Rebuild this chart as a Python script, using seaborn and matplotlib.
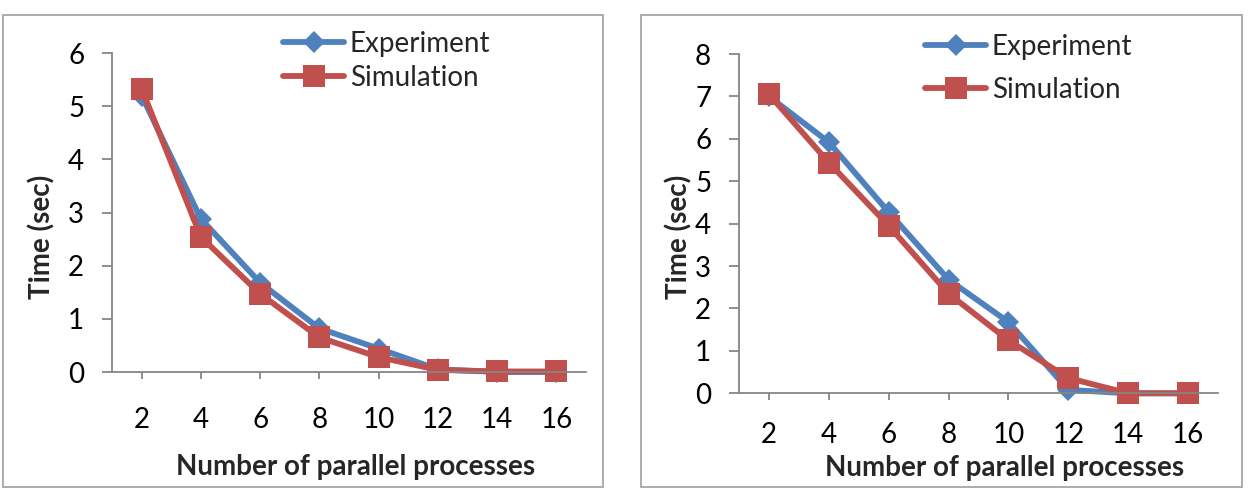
import matplotlib
matplotlib.use("Agg")
import matplotlib.pyplot as plt
import seaborn as sns
import pandas as pd
from matplotlib.patches import Rectangle

# ---- data ----
processes = [2, 4, 6, 8, 10, 12, 14, 16]
series_names = ["Experiment", "Simulation"]
left_experiment = [5.2, 2.88, 1.68, 0.82, 0.44, 0.05, 0.0, 0.0]
left_simulation = [5.33, 2.54, 1.47, 0.65, 0.28, 0.04, 0.01, 0.01]
right_experiment = [7.0, 5.92, 4.27, 2.68, 1.68, 0.08, 0.0, 0.0]
right_simulation = [7.05, 5.44, 3.95, 2.35, 1.25, 0.36, 0.0, 0.0]
left_yticks = [0, 1, 2, 3, 4, 5, 6]
right_yticks = [0, 1, 2, 3, 4, 5, 6, 7, 8]
xlabel = "Number of parallel processes"
ylabel = "Time (sec)"

BLUE = "#4F81BD"
RED = "#C0504D"
AXIS = "#868686"

sns.set_theme(style="white")
plt.rcParams["font.family"] = ["Lato", "DejaVu Sans"]

def make_df(exp, sim):
    return pd.DataFrame({
        "processes": processes * 2,
        "time": list(exp) + list(sim),
        "series": [series_names[0]] * len(processes) + [series_names[1]] * len(processes),
    })

fig = plt.figure(figsize=(12.48, 4.90), dpi=100)
W, H = 1248, 490

def fx(px):
    return px / W

def fy(py):
    return 1 - py / H

FS = 20

# panel frames
for (x0, x1) in [(3, 603), (641, 1242)]:
    fig.patches.append(Rectangle((fx(x0), fy(487)), fx(x1 - x0), (487 - 15) / H,
                                 transform=fig.transFigure, fill=False,
                                 edgecolor="#A6A6A6", linewidth=1.3))

panels = [
    dict(rect=(112, 586, 372, 53), exp=left_experiment, sim=left_simulation,
         yticks=left_yticks, ylab_x=42, xlab_x=356, xlab_y=467,
         leg=(283, 31), legspace=0.28, xpad=20),
    dict(rect=(739, 1218, 393.3, 54), exp=right_experiment, sim=right_simulation,
         yticks=right_yticks, ylab_x=679, xlab_x=1005, xlab_y=468,
         leg=(925, 34), legspace=0.6, xpad=16),
]

for p in panels:
    xl, xr, yb, yt = p["rect"]
    ax = fig.add_axes([fx(xl), fy(yb), fx(xr - xl), (yb - yt) / H])
    df = make_df(p["exp"], p["sim"])
    sns.lineplot(data=df, x="processes", y="time", hue="series", style="series",
                 hue_order=series_names, style_order=series_names,
                 palette={"Experiment": BLUE, "Simulation": RED},
                 markers={"Experiment": "D", "Simulation": "s"}, dashes=False,
                 linewidth=4.2, markersize=13, markeredgewidth=0,
                 ax=ax, legend=True)
    for ln in ax.get_lines():
        if ln.get_marker() == "s":
            ln.set_markersize(16)
        elif ln.get_marker() == "D":
            ln.set_markersize(11.5)
        ln.set_clip_on(False)
    ax.set_xlim(1, 17)
    ax.set_ylim(p["yticks"][0], p["yticks"][-1])
    ax.set_xticks(processes)
    ax.set_xticklabels([str(v) for v in processes])
    ax.set_yticks(p["yticks"])
    ax.set_yticklabels([str(v) for v in p["yticks"]])
    for s in ["top", "right"]:
        ax.spines[s].set_visible(False)
    for s in ["left", "bottom"]:
        ax.spines[s].set_color(AXIS)
        ax.spines[s].set_linewidth(1.3)
        ax.spines[s].set_clip_on(False)
    ax.tick_params(axis="y", direction="out", length=7, width=1.3, color=AXIS,
                   labelsize=FS, pad=13, labelcolor="black", left=True)
    ax.tick_params(axis="x", direction="out", length=5, width=1.3, color=AXIS,
                   labelsize=FS, pad=p["xpad"], labelcolor="black", bottom=True)
    ax.set_xlabel("")
    ax.set_ylabel("")
    fig.text(fx(p["ylab_x"]), fy(237), ylabel, rotation=90, ha="center", va="center",
             fontsize=FS, fontweight="bold")
    fig.text(fx(p["xlab_x"]), fy(p["xlab_y"]), xlabel, ha="center", va="center",
             fontsize=FS, fontweight="bold")
    leg = ax.legend(loc="upper left", bbox_to_anchor=(fx(p["leg"][0]), fy(p["leg"][1])),
                    bbox_transform=fig.transFigure, frameon=False, fontsize=FS,
                    handlelength=2.2, handletextpad=0.2, labelspacing=p["legspace"],
                    borderpad=0, borderaxespad=0)
    for h in leg.get_lines():
        h.set_linewidth(4.2)
    ax.set_facecolor("white")

fig.savefig("out.png", dpi=100, facecolor="white")
